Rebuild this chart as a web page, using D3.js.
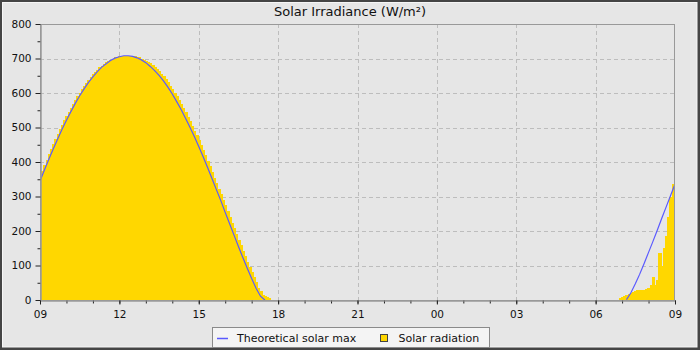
<!DOCTYPE html>
<html>
<head>
<meta charset="utf-8">
<script src="https://cdn.jsdelivr.net/npm/d3@7"></script>
<style>
  html, body { margin: 0; padding: 0; background: #454545; }
  svg { display: block; font-family: "DejaVu Sans", sans-serif; }
</style>
</head>
<body>
<svg id="chart" width="700" height="350"></svg>
<script>
// ---------------- DATA ----------------
const chartTitle = "Solar Irradiance (W/m²)";
const seriesNames = ["Theoretical solar max", "Solar radiation"];
const xTickLabels = ["09", "12", "15", "18", "21", "00", "03", "06", "09"];
const yTickValues = [0, 100, 200, 300, 400, 500, 600, 700, 800];

// Theoretical solar max, every 10 minutes, starting 09:00 (day 1)
const theoryDayStart = "09:00";
const theoryDay = [345, 377, 408, 438, 467, 495, 521, 546, 570, 592, 612, 631, 647, 662, 675, 685,
  694, 701, 705, 708, 708, 706, 702, 696, 688, 677, 665, 651, 635, 617, 597, 575, 552, 527, 501,
  474, 445, 415, 384, 352, 320, 288, 254, 221, 188, 155, 123, 92, 62, 34, 11, 0];
// Theoretical solar max, every 10 minutes, starting 07:10 (day 2)
const theoryMorningStart = "07:10";
const theoryMorning = [1, 21, 47, 75, 106, 138, 170, 203, 237, 270, 303, 336];

// Solar radiation, every 5 minutes, starting 09:00 (day 1)
const radiationDayStart = "09:00";
const radiationDay = [358, 375, 392, 407, 423, 438, 452, 467, 481, 495, 508, 521, 533, 545, 557, 569,
  580, 591, 601, 611, 621, 630, 639, 647, 654, 662, 668, 674, 679, 684, 689, 693, 697, 700, 703,
  705, 706, 708, 708, 708, 708, 708, 707, 706, 705, 703, 700, 697, 694, 690, 688, 682, 676, 670,
  663, 656, 648, 640, 631, 621, 611, 601, 590, 579, 568, 556, 544, 531, 518, 505, 491, 478, 463,
  449, 434, 419, 403, 387, 371, 355, 339, 323, 307, 291, 274, 257, 241, 224, 208, 191, 175, 158,
  142, 127, 111, 96, 81, 66, 51, 36, 25, 15, 12, 10, 6];
// Solar radiation, every 5 minutes, starting 06:55 (day 2)
const radiationMorningStart = "06:55";
const radiationMorning = [5, 9, 12, 15, 17, 19, 23, 27, 29, 29, 29, 30, 31, 34, 43, 66, 43, 58,
  135, 100, 150, 185, 240, 300, 335];

// ---------------- CHART ----------------
const W = 700, H = 350;
const M = { left: 40, right: 25, top: 24, bottom: 50 };
const svg = d3.select("#chart");

const base = new Date(2024, 0, 1, 9, 0, 0);
const end = new Date(2024, 0, 2, 9, 0, 0);
function timeOn(dayOffset, hhmm) {
  const [h, m] = hhmm.split(":").map(Number);
  return new Date(2024, 0, 1 + dayOffset, h, m, 0);
}
function series(values, start, stepMin) {
  return values.map((v, i) => ({ t: d3.timeMinute.offset(start, i * stepMin), v }));
}

const theoryA = series(theoryDay, timeOn(0, theoryDayStart), 10);
const theoryB = series(theoryMorning, timeOn(1, theoryMorningStart), 10);
const radA = series(radiationDay, timeOn(0, radiationDayStart), 5);
const radB = series(radiationMorning, timeOn(1, radiationMorningStart), 5);

const x = d3.scaleTime().domain([base, end]).range([M.left, W - M.right]);
const y = d3.scaleLinear().domain([0, 800]).range([H - M.bottom, M.top]);

// Frame / background
svg.append("rect").attr("x", 0).attr("y", 0).attr("width", W).attr("height", H).attr("fill", "#454545");
svg.append("rect").attr("x", 2).attr("y", 2).attr("width", 695.5).attr("height", 345.5)
  .attr("fill", "#f6f6f6");
svg.append("rect").attr("x", 3).attr("y", 3).attr("width", 693.5).attr("height", 343.5)
  .attr("fill", "#e6e6e6");

// Title
svg.append("text").attr("x", 350).attr("y", 16).attr("text-anchor", "middle")
  .attr("font-size", 13).attr("fill", "#111").text(chartTitle);

// Grid
const grid = svg.append("g").attr("stroke", "#bdbdbd").attr("stroke-dasharray", "4,3").attr("stroke-width", 1);
const majorTimes = d3.range(0, 25, 3).map(h => d3.timeHour.offset(base, h));
majorTimes.slice(1, -1).forEach(t => {
  grid.append("line").attr("x1", Math.round(x(t)) + 0.5).attr("x2", Math.round(x(t)) + 0.5)
    .attr("y1", M.top).attr("y2", H - M.bottom);
});
yTickValues.slice(1, -1).forEach(v => {
  grid.append("line").attr("y1", Math.round(y(v)) + 0.5).attr("y2", Math.round(y(v)) + 0.5)
    .attr("x1", M.left).attr("x2", W - M.right);
});

// Clip
svg.append("clipPath").attr("id", "plotClip").append("rect")
  .attr("x", M.left).attr("y", M.top).attr("width", W - M.left - M.right).attr("height", H - M.top - M.bottom);
const plot = svg.append("g").attr("clip-path", "url(#plotClip)");

// Bars
const halfStep = (x(d3.timeMinute.offset(base, 5)) - x(base)) / 2;
plot.append("g").selectAll("rect").data(radA.concat(radB)).join("rect")
  .attr("x", d => x(d.t) - halfStep)
  .attr("width", halfStep * 2 + 1)
  .attr("y", d => y(d.v))
  .attr("height", d => y(0) - y(d.v))
  .attr("fill", "#ffd700")
  .attr("shape-rendering", "crispEdges");

// Theoretical line
const line = d3.line().x(d => x(d.t)).y(d => y(d.v));
[theoryA, theoryB].forEach(s => {
  plot.append("path").datum(s).attr("d", line)
    .attr("fill", "none").attr("stroke", "#5a5aff").attr("stroke-width", 1.2);
});

// Plot frame
svg.append("rect").attr("x", M.left + 0.5).attr("y", M.top + 0.5)
  .attr("width", W - M.left - M.right - 1).attr("height", H - M.top - M.bottom)
  .attr("fill", "none").attr("stroke", "#999");

// Axes
const xAxis = d3.axisBottom(x).tickValues(majorTimes).tickFormat((d, i) => xTickLabels[i])
  .tickSizeInner(4).tickSizeOuter(0).tickPadding(6);
const xMinor = d3.axisBottom(x).tickValues(d3.range(0, 25).map(h => d3.timeHour.offset(base, h)))
  .tickFormat("").tickSizeInner(3).tickSizeOuter(0);
const yAxis = d3.axisLeft(y).tickValues(yTickValues).tickSizeInner(5).tickSizeOuter(0).tickPadding(4);
const yMinor = d3.axisLeft(y).tickValues(d3.range(50, 800, 100)).tickFormat("").tickSizeInner(3).tickSizeOuter(0);

function styleAxis(g) {
  g.select(".domain").attr("stroke", "#999");
  g.selectAll(".tick line").attr("stroke", "#222");
  g.selectAll(".tick text").attr("fill", "#111").attr("font-size", 10.5)
    .attr("font-family", "DejaVu Sans, sans-serif");
}
svg.append("g").attr("transform", `translate(0,${H - M.bottom + 0.5})`).call(xMinor).call(styleAxis);
svg.append("g").attr("transform", `translate(0,${H - M.bottom + 0.5})`).call(xAxis).call(styleAxis);
svg.append("g").attr("transform", `translate(${M.left + 0.5},0)`).call(yMinor).call(styleAxis);
svg.append("g").attr("transform", `translate(${M.left + 0.5},0)`).call(yAxis).call(styleAxis);

// Legend
const lg = svg.append("g");
lg.append("rect").attr("x", 212.5).attr("y", 327.5).attr("width", 277).attr("height", 20)
  .attr("fill", "#f4f4f4").attr("stroke", "#8a8a8a");
lg.append("line").attr("x1", 217).attr("x2", 228).attr("y1", 338.5).attr("y2", 338.5)
  .attr("stroke", "#5a5aff").attr("stroke-width", 1.5);
lg.append("text").attr("x", 237).attr("y", 342).attr("font-size", 11).attr("fill", "#111").text(seriesNames[0]);
lg.append("rect").attr("x", 380.5).attr("y", 334.5).attr("width", 7).attr("height", 7)
  .attr("fill", "#ffd700").attr("stroke", "#444");
lg.append("text").attr("x", 398.5).attr("y", 342).attr("font-size", 11).attr("fill", "#111").text(seriesNames[1]);
</script>
</body>
</html>
